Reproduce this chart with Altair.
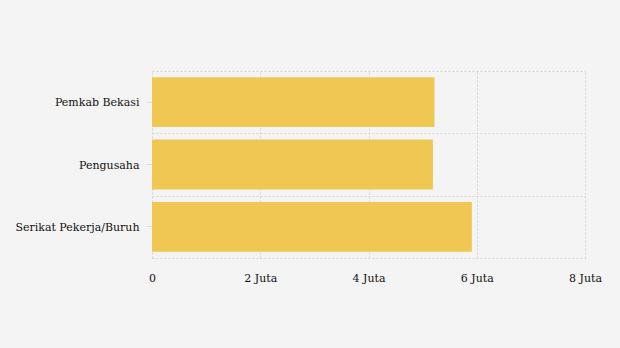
import altair as alt
import pandas as pd

categories = ["Pemkab Bekasi", "Pengusaha", "Serikat Pekerja/Buruh"]
values = [5219263, 5190000, 5910000]
tick_values = [0, 2000000, 4000000, 6000000, 8000000]

df = pd.DataFrame({"pihak": categories, "nilai": values})

FONT = "DejaVu Serif"
GRID = "#d4d4d4"
DASH = [2, 2]

xenc = alt.X(
    "nilai:Q",
    scale=alt.Scale(domain=[0, 8000000], nice=False),
    axis=alt.Axis(
        values=tick_values,
        labelExpr="datum.value == 0 ? '0' : (datum.value / 1000000) + ' Juta'",
        grid=True, gridColor=GRID, gridDash=DASH, gridWidth=1,
        ticks=False, domain=False, labelPadding=14, labelFlush=False,
        labelFont=FONT, labelFontSize=11, labelColor="#111111",
        title=None,
    ),
)

grid_layer = alt.Chart(df).mark_bar(opacity=0).encode(
    x=xenc,
    y=alt.Y(
        "pihak:N",
        scale=alt.Scale(domain=categories, paddingInner=0, paddingOuter=0),
        sort=categories,
        axis=alt.Axis(
            tickBand="extent", grid=True, gridColor=GRID, gridDash=DASH,
            gridWidth=1, labels=False, ticks=False, domain=False, title=None,
            orient="left",
        ),
    ),
)

bars = alt.Chart(df).mark_bar(color="#f0c752").encode(
    x=xenc,
    y=alt.Y(
        "pihak:N",
        scale=alt.Scale(domain=categories, paddingInner=0.2, paddingOuter=0.1),
        sort=categories,
        axis=alt.Axis(
            grid=False, ticks=True, tickSize=6, tickColor="#dddddd",
            domain=False, labelPadding=7, labelOffset=1, labelFont=FONT,
            labelFontSize=11, labelColor="#111111", title=None, orient="left",
        ),
    ),
)

chart = (
    alt.layer(grid_layer, bars)
    .resolve_scale(y="independent")
    .resolve_axis(y="independent")
    .properties(
        width=433, height=187,
        background="#f4f4f4",
        autosize=alt.AutoSizeParams(type="none"),
        padding={"left": 152, "top": 71, "right": 35, "bottom": 90},
    )
    .configure_view(stroke=None)
)

chart.save("out.html", embed_options={"renderer": "svg", "actions": False})
